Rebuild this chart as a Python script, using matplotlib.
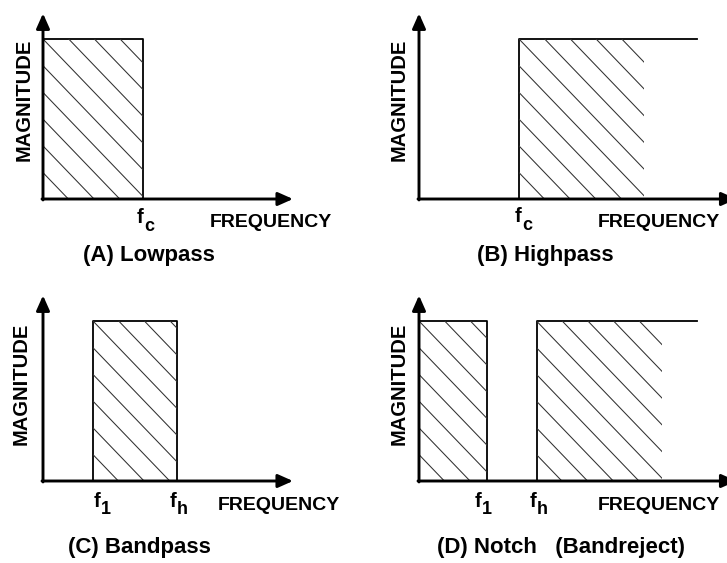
import numpy as np
import matplotlib
matplotlib.use("Agg")
import matplotlib.pyplot as plt
from matplotlib.patches import Rectangle
from matplotlib.collections import LineCollection

plt.rcParams['font.family'] = ['Liberation Sans', 'DejaVu Sans']

# ---------------- data ----------------
filter_types = ['lowpass', 'highpass', 'bandpass', 'notch']
panel_titles = ['(A) Lowpass', '(B) Highpass', '(C) Bandpass', '(D) Notch   (Bandreject)']
edge_freqs = [[4.0], [4.0], [2.0, 5.35], [2.7, 4.7]]          # cutoff frequencies (arb. units)
edge_subscripts = [['c'], ['c'], ['1', 'h'], ['1', 'h']]
passband_mag = 1.0
passband_end = [None, 11.1, None, 11.1]     # where the open-ended passband line stops
hatch_end = [None, 9.0, None, 9.7]          # where the open-ended hatching stops
x_label = 'FREQUENCY'
y_label = 'MAGNITUDE'

# ---------------- layout (pixels) ----------------
W, H = 727, 563
PX_X, PX_Y = 25.0, 160.0                    # pixels per freq unit / per magnitude unit
origins = [(43, 199), (419, 199), (43, 481), (419, 481)]
xaxis_end = [10.0, 12.7, 10.0, 12.7]
yaxis_end = 1.16
title_pos = [(1.6, -0.39), (2.32, -0.39), (1.0, -0.45), (0.72, -0.45)]
xlabel_pos = [(6.68, -0.175), (7.16, -0.175), (7.0, -0.18), (7.16, -0.18)]
ylabel_pos = [(-0.76, 0.62), (-0.8, 0.62), (-0.86, 0.61), (-0.8, 0.61)]
edge_label_off = [[0.02], [0.1], [0.28, 0.0], [-0.2, 0.0]]
edge_label_y = [-0.15, -0.145, -0.16, -0.16]

HATCH_DX_PX = 25.7     # horizontal spacing of hatch lines
HATCH_SLOPE = 1.04     # pixel drop per pixel to the right

fig = plt.figure(figsize=(W / 100, H / 100), dpi=100)


def hatch(ax, x0, x1, y0, y1):
    h = HATCH_DX_PX / PX_X
    slope = HATCH_SLOPE * PX_X / PX_Y          # data y drop per data x
    run = (y1 - y0) / slope
    n = int(np.ceil((x1 - x0 + run) / h)) + 1
    segs = []
    for k in range(-n, n + 1):
        xs = x0 + k * h
        segs.append([(xs, y1), (xs + run, y0)])
    lc = LineCollection(segs, colors='#303030', linewidths=0.75)
    ax.add_collection(lc, autolim=False)
    clip = Rectangle((x0, y0), x1 - x0, y1 - y0, transform=ax.transData)
    lc.set_clip_path(clip)


for i, ftype in enumerate(filter_types):
    ox, oy = origins[i]
    ax = fig.add_axes([0, 0, 1, 1])
    ax.set_xlim(-ox / PX_X, (W - ox) / PX_X)
    ax.set_ylim((oy - H) / PX_Y, oy / PX_Y)
    ax.axis('off')
    ax.patch.set_alpha(0)

    edges = edge_freqs[i]
    m = passband_mag
    lw_box = 1.3
    if ftype == 'lowpass':
        fc = edges[0]
        ax.plot([0, fc, fc], [m, m, 0], color='k', lw=lw_box)
        hatch(ax, 0, fc, 0, m)
    elif ftype == 'highpass':
        fc = edges[0]
        ax.plot([fc, fc, passband_end[i]], [0, m, m], color='k', lw=lw_box)
        hatch(ax, fc, hatch_end[i], 0, m)
    elif ftype == 'bandpass':
        f1, fh = edges
        ax.plot([f1, f1, fh, fh], [0, m, m, 0], color='k', lw=lw_box)
        hatch(ax, f1, fh, 0, m)
    else:
        f1, fh = edges
        ax.plot([0, f1, f1], [m, m, 0], color='k', lw=lw_box)
        ax.plot([fh, fh, passband_end[i]], [0, m, m], color='k', lw=lw_box)
        hatch(ax, 0, f1, 0, m)
        hatch(ax, fh, hatch_end[i], 0, m)

    # axes with arrows
    arrow = dict(arrowstyle='-|>,head_length=0.45,head_width=0.2', color='k',
                 lw=2.1, shrinkA=0, shrinkB=0, mutation_scale=20)
    ax.annotate('', xy=(xaxis_end[i], 0), xytext=(-0.04, 0), arrowprops=arrow,
                annotation_clip=False)
    ax.annotate('', xy=(0, yaxis_end), xytext=(0, -0.006), arrowprops=arrow,
                annotation_clip=False)

    # edge labels: "f" with a large subscript
    for f, sub, off in zip(edges, edge_subscripts[i], edge_label_off[i]):
        xa, ya = f + off, edge_label_y[i]
        ax.text(xa, ya, 'f', ha='right', va='baseline', fontsize=14.5,
                fontweight='bold')
        ax.annotate(sub, xy=(xa, ya), xytext=(0.3, -5.5), textcoords='offset points',
                    ha='left', va='baseline', fontsize=13, fontweight='bold',
                    annotation_clip=False)
    ax.text(*xlabel_pos[i], x_label, ha='left', va='baseline',
            fontsize=14, fontweight='bold')
    ax.text(*ylabel_pos[i], y_label, ha='center', va='center', rotation=90,
            fontsize=14.5, fontweight='bold')
    ax.text(*title_pos[i], panel_titles[i], ha='left', va='baseline',
            fontsize=16, fontweight='bold')

fig.savefig('out.png', dpi=100)
